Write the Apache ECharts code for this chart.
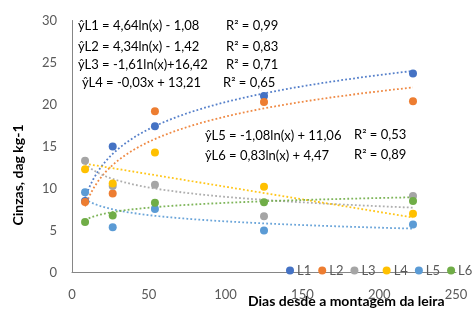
<!DOCTYPE html>
<html><head><meta charset="utf-8">
<script src="https://cdn.jsdelivr.net/npm/echarts@6/dist/echarts.min.js"></script>
<style>html,body{margin:0;padding:0;background:#fff}#c{width:472px;height:322px}</style>
</head><body><div id="c"></div>
<script>
const xDays = [8.5, 26.5, 54, 125, 222];
const seriesNames = ['L1', 'L2', 'L3', 'L4', 'L5', 'L6'];
const L1 = [8.5, 15.0, 17.4, 21.0, 23.7];
const L2 = [8.4, 9.4, 19.2, 20.3, 20.4];
const L3 = [13.3, 10.3, 10.45, 6.7, 9.1];
const L4 = [12.3, 10.6, 14.3, 10.2, 7.0];
const L5 = [9.55, 5.4, 7.56, 5.0, 5.7];
const L6 = [6.0, 6.8, 8.3, 8.36, 8.5];
// trend line coefficients as printed in the chart: [type, a, b]
const trendCoef = [
  ['log', 4.64, -1.08],
  ['log', 4.34, -1.42],
  ['log', -1.61, 16.42],
  ['lin', -0.03, 13.21],
  ['log', -1.08, 11.06],
  ['log', 0.83, 4.47]
];
const eqLines = [
  'ŷL1 = 4,64ln(x) - 1,08',
  'ŷL2 = 4,34ln(x) - 1,42',
  'ŷL3 = -1,61ln(x)+16,42',
  'ŷL4 = -0,03x + 13,21',
  'ŷL5 = -1,08ln(x) + 11,06',
  'ŷL6 = 0,83ln(x) + 4,47'
];
const r2Lines = ['R² = 0,99', 'R² = 0,83', 'R² = 0,71', 'R² = 0,65', 'R² = 0,53', 'R² = 0,89'];
const colors = ['#4472C4', '#ED7D31', '#A5A5A5', '#FFC000', '#5B9BD5', '#70AD47'];
const allData = [L1, L2, L3, L4, L5, L6];

const FONT = 'Lato';
const chart = echarts.init(document.getElementById('c'));

function trendPoints(c) {
  const pts = [];
  const x0 = xDays[0], x1 = xDays[xDays.length - 1];
  const n = 80;
  for (let i = 0; i <= n; i++) {
    const x = x0 + (x1 - x0) * i / n;
    const y = c[0] === 'log' ? c[1] * Math.log(x) + c[2] : c[1] * x + c[2];
    pts.push([x, y]);
  }
  return pts;
}

const series = [];
seriesNames.forEach((nm, i) => {
  series.push({
    name: nm + ' trend', type: 'line', showSymbol: false, silent: true,
    data: trendPoints(trendCoef[i]),
    lineStyle: { color: colors[i], width: 1.8, type: [1.8, 2.2], opacity: 0.9 },
    z: 2
  });
});
seriesNames.forEach((nm, i) => {
  series.push({
    name: nm, type: 'scatter', symbol: 'circle', symbolSize: 8,
    data: xDays.map((x, j) => [x, allData[i][j]]),
    itemStyle: { color: colors[i], opacity: 1 },
    z: 3
  });
});

// equation text positions
const eqPos = [[78, 27, 226, 27], [78, 48, 226, 48], [78, 66, 226, 66], [82, 84, 223, 84], [205, 137, 354, 136], [205, 157, 354, 156]];
const graphics = [];
eqPos.forEach((p, i) => {
  graphics.push({ type: 'text', left: p[0], top: p[1] - 8, style: { text: eqLines[i], font: '13px ' + FONT, fill: '#000' } });
  graphics.push({ type: 'text', left: p[2], top: p[3] - 8, style: { text: r2Lines[i], font: '13px ' + FONT, fill: '#000' } });
});
graphics.push({ type: 'text', left: 248, top: 294, style: { text: 'Dias desde a montagem da leira', font: 'bold 14px ' + FONT, fill: '#000' } });
graphics.push({ type: 'text', x: 18, y: 175, rotation: Math.PI / 2, style: { text: 'Cinzas, dag kg-1', font: 'bold 14px ' + FONT, fill: '#000', align: 'center', verticalAlign: 'middle' } });

chart.setOption({
  animation: false,
  color: colors,
  grid: { left: 72, right: 16, top: 20.5, bottom: 49.5 },
  xAxis: {
    type: 'value', min: 0, max: 250, interval: 50,
    axisLine: { show: true, lineStyle: { color: '#868686', width: 1 } },
    axisTick: { show: false }, splitLine: { show: false },
    axisLabel: { margin: 16, color: '#595959', fontSize: 13, fontFamily: FONT }
  },
  yAxis: {
    type: 'value', min: 0, max: 30, interval: 5,
    axisLine: { show: true, lineStyle: { color: '#868686', width: 1 } },
    axisTick: { show: false }, splitLine: { show: false },
    axisLabel: { margin: 15, color: '#595959', fontSize: 13, fontFamily: FONT }
  },
  legend: {
    data: seriesNames.map(n => ({ name: n, icon: 'circle' })),
    orient: 'horizontal', left: 281, top: 259, width: 500, itemWidth: 8, itemHeight: 8, itemGap: 7,
    textStyle: { fontSize: 13, fontFamily: FONT, color: '#595959', padding: [0, 0, 0, -2] }
  },
  graphic: graphics,
  series: series
});
</script></body></html>
